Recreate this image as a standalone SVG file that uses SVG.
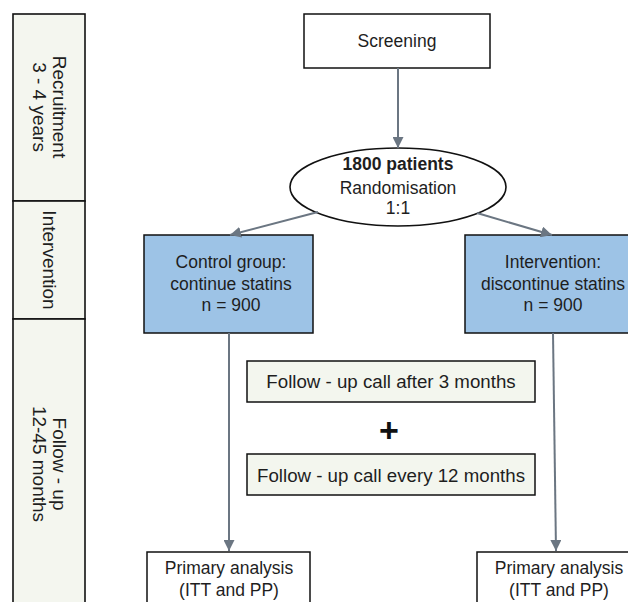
<svg xmlns="http://www.w3.org/2000/svg" width="628" height="602" viewBox="0 0 628 602">
<defs>
<style>
text{font-family:"Liberation Sans",Arial,sans-serif;font-size:17.5px;fill:#1e1e1e;text-anchor:middle}
text.lab{font-size:19px}
text.fut{font-size:18.7px}
text.plus{font-size:34px;font-weight:bold;fill:#111}
.side{fill:#f4f6ef;stroke:#111;stroke-width:1.6}
.box{fill:#fff;stroke:#111;stroke-width:1.5}
.blue{fill:#9dc3e6;stroke:#111;stroke-width:1.5}
.fu{fill:#f3f6ee;stroke:#111;stroke-width:1.5}
.con{stroke:#6b7682;stroke-width:2;fill:none;marker-end:url(#ah)}
</style>
<marker id="ah" viewBox="0 0 10 10" refX="10" refY="5" markerWidth="5.5" markerHeight="5.5" orient="auto" markerUnits="strokeWidth">
<path d="M0,0 L10,5 L0,10 z" fill="#6b7682"/>
</marker>
</defs>
<g id="side-recruitment">
<rect class="side" x="13" y="14" width="72" height="187"/>
<text class="lab" transform="translate(49,107) rotate(90)"><tspan x="0" y="-4">Recruitment</tspan><tspan x="0" y="16">3 - 4 years</tspan></text>
</g>
<g id="side-intervention">
<rect class="side" x="13" y="201" width="72" height="118"/>
<text class="lab" transform="translate(49,260) rotate(90)"><tspan x="0" y="6">Intervention</tspan></text>
</g>
<g id="side-followup">
<rect class="side" x="13" y="319" width="72" height="295"/>
<text class="lab" transform="translate(49,464) rotate(90)"><tspan x="0" y="-4">Follow - up</tspan><tspan x="0" y="16">12-45 months</tspan></text>
</g>
<g id="screening">
<rect class="box" x="304" y="14" width="186" height="54"/>
<text x="397" y="47">Screening</text>
</g>
<g id="randomisation">
<ellipse cx="398" cy="187" rx="108" ry="39" fill="#fff" stroke="#111" stroke-width="1.6"/>
<text x="398" y="170" font-weight="bold" style="font-weight:bold">1800 patients</text>
<text x="398" y="194">Randomisation</text>
<text x="398" y="214">1:1</text>
</g>
<g id="control">
<rect class="blue" x="144" y="235" width="169" height="98"/>
<text x="231" y="268">Control group:</text>
<text x="231" y="290">continue statins</text>
<text x="231" y="311">n = 900</text>
</g>
<g id="intervention">
<rect class="blue" x="465" y="235" width="169" height="98"/>
<text x="553" y="268">Intervention:</text>
<text x="553" y="290">discontinue statins</text>
<text x="553" y="311">n = 900</text>
</g>
<g id="followup-3">
<rect class="fu" x="247" y="361" width="288" height="41"/>
<text class="fut" x="391" y="388">Follow - up call after 3 months</text>
</g>
<g id="plus">
<text class="plus" x="389" y="442">+</text>
</g>
<g id="followup-12">
<rect class="fu" x="247" y="454" width="288" height="41"/>
<text class="fut" x="391" y="482">Follow - up call every 12 months</text>
</g>
<g id="primary-left">
<rect class="box" x="147" y="552" width="163" height="60"/>
<text x="229" y="574">Primary analysis</text>
<text x="229" y="596">(ITT and PP)</text>
</g>
<g id="primary-right">
<rect class="box" x="477" y="552" width="164" height="60"/>
<text x="559" y="574">Primary analysis</text>
<text x="559" y="596">(ITT and PP)</text>
</g>
<g id="connectors">
<line class="con" x1="398" y1="68" x2="398" y2="148"/>
<line class="con" x1="318" y1="212" x2="230" y2="235"/>
<line class="con" x1="477" y1="213" x2="552" y2="235"/>
<line class="con" x1="229" y1="333" x2="229" y2="551"/>
<line class="con" x1="553" y1="333" x2="556" y2="551"/>
</g>
</svg>
